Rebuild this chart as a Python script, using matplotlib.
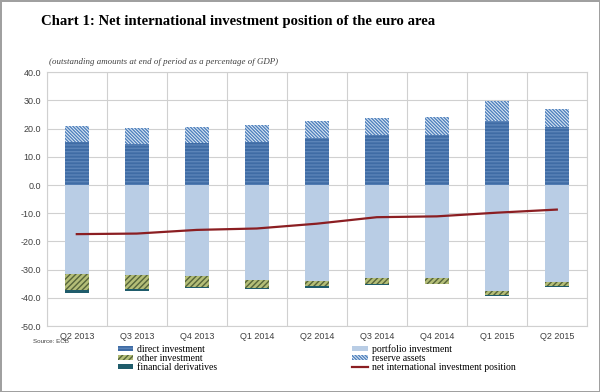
import numpy as np
import matplotlib
matplotlib.use("Agg")
import matplotlib.pyplot as plt
from matplotlib.patches import Patch
from matplotlib.lines import Line2D

quarters = ["Q2 2013", "Q3 2013", "Q4 2013", "Q1 2014", "Q2 2014",
            "Q3 2014", "Q4 2014", "Q1 2015", "Q2 2015"]
direct_inv = [15.1, 14.4, 15.0, 15.3, 16.6, 17.7, 17.9, 22.7, 20.4]
reserve_assets = [5.7, 5.9, 5.4, 6.1, 6.0, 6.2, 6.2, 7.0, 6.7]
portfolio_inv = [-31.6, -31.8, -32.2, -33.5, -33.9, -33.1, -33.1, -37.5, -34.3]
other_inv = [-5.7, -5.2, -4.0, -2.9, -2.0, -1.9, -1.8, -1.3, -1.6]
fin_deriv = [-0.8, -0.5, -0.4, -0.6, -0.5, -0.4, -0.3, -0.4, -0.1]
net_iip = [-17.4, -17.2, -15.9, -15.4, -13.7, -11.4, -11.1, -9.8, -8.7]

plt.rcParams['hatch.linewidth'] = 1.0

fig = plt.figure(figsize=(6, 3.92), dpi=100)
fig.patch.set_edgecolor('#a0a0a0')
fig.patch.set_linewidth(2)
ax = fig.add_axes([0.078, 0.168, 0.9, 0.648])

x = np.arange(len(quarters))
w = 0.4
direct = np.array(direct_inv)
port = np.array(portfolio_inv)
other = np.array(other_inv)

res_hatch = '\\' * 10
ax.bar(x, direct, w, color='#3F6CA5', edgecolor='#5B84B8', hatch='-----', linewidth=0)
ax.bar(x, port, w, color='#B9CDE5', linewidth=0)
ax.bar(x, other, w, bottom=port, color='#B4BE78', edgecolor='#56653A', hatch='//////', linewidth=0)
ax.bar(x, reserve_assets, w, bottom=direct, color='#E4ECF6', edgecolor='#4F81BD', hatch=res_hatch, linewidth=0)
ax.bar(x, fin_deriv, w, bottom=port + other, color='#1F5C6B', linewidth=0)
ax.plot(x, net_iip, color='#8B1E22', lw=1.6, zorder=5)

ax.set_xlim(-0.5, len(quarters) - 0.5)
ax.set_ylim(-50, 40)
ax.set_yticks(np.arange(-50, 41, 10))
ax.set_yticklabels([f"{v:.1f}" for v in np.arange(-50, 41, 10)])
ax.set_xticks(x)
ax.set_xticklabels(quarters)
ax.set_xticks(np.arange(-0.5, len(quarters), 1), minor=True)
ax.grid(axis='y', color='#d0d0d0', lw=0.8)
ax.grid(axis='x', which='minor', color='#d0d0d0', lw=0.8)
ax.set_axisbelow(True)
ax.tick_params(which='both', length=0)
ax.tick_params(labelsize=6.5, colors='#404040', pad=4)
for lbl in ax.get_xticklabels() + ax.get_yticklabels():
    lbl.set_fontfamily('Liberation Sans')
for s in ax.spines.values():
    s.set_color('#d0d0d0')
    s.set_linewidth(0.8)

fig.text(0.069, 0.945, "Chart 1: Net international investment position of the euro area",
         fontsize=10.6, fontweight='bold', family='Liberation Serif', va='center')
fig.text(0.081, 0.842, "(outstanding amounts at end of period as a percentage of GDP)",
         fontsize=6.4, style='italic', family='Liberation Serif', color='#404040', va='center')
fig.text(0.055, 0.128, "Source: ECB", fontsize=4.5, family='Liberation Sans', color='#404040', va='center')

left_handles = [
    Patch(facecolor='#3F6CA5', edgecolor='#5B84B8', hatch='-----', linewidth=0),
    Patch(facecolor='#B4BE78', edgecolor='#56653A', hatch='//////', linewidth=0),
    Patch(facecolor='#1F5C6B', linewidth=0),
]
right_handles = [
    Patch(facecolor='#B9CDE5', linewidth=0),
    Patch(facecolor='#E4ECF6', edgecolor='#4F81BD', hatch=res_hatch, linewidth=0),
    Line2D([0], [0], color='#8B1E22', lw=1.6),
]
leg_kw = dict(frameon=False, prop={'family': 'Liberation Serif', 'size': 7},
              handlelength=1.6, handleheight=0.4, handletextpad=0.4,
              labelspacing=0.0, borderpad=0, loc='upper left')
fig.legend(left_handles, ["direct investment", "other investment", "financial derivatives"],
           bbox_to_anchor=(0.188, 0.133), **leg_kw)
fig.legend(right_handles, ["portfolio investment", "reserve assets", "net international investment position"],
           bbox_to_anchor=(0.579, 0.133), **leg_kw)

fig.savefig("out.png", dpi=100)
